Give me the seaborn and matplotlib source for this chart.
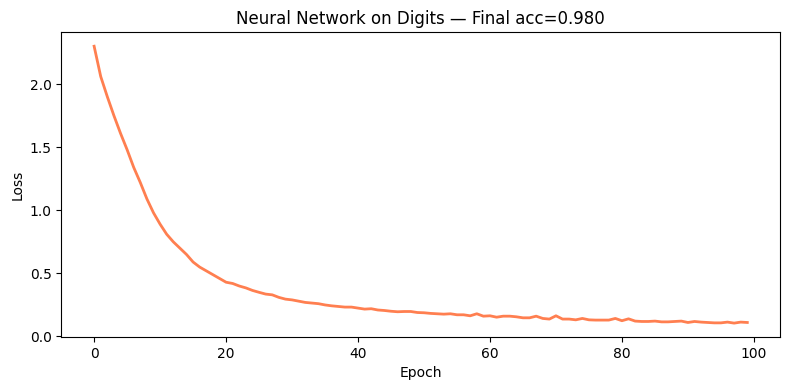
import matplotlib
matplotlib.use("Agg")
import matplotlib.pyplot as plt
import seaborn as sns
import numpy as np
import pandas as pd

title = "Neural Network on Digits — Final acc=0.980"
loss = [
    2.30, 2.06, 1.90, 1.75, 1.61, 1.48, 1.34, 1.22, 1.09, 0.98,
    0.89, 0.81, 0.75, 0.70, 0.65, 0.59, 0.55, 0.52, 0.49, 0.46,
    0.43, 0.42, 0.40, 0.385, 0.365, 0.35, 0.336, 0.33, 0.31, 0.296,
    0.29, 0.28, 0.27, 0.265, 0.26, 0.25, 0.243, 0.238, 0.233, 0.233,
    0.225, 0.217, 0.22, 0.21, 0.206, 0.20, 0.196, 0.198, 0.198, 0.19,
    0.188, 0.183, 0.18, 0.177, 0.18, 0.172, 0.172, 0.164, 0.18, 0.161,
    0.164, 0.153, 0.161, 0.161, 0.156, 0.148, 0.148, 0.161, 0.143, 0.138,
    0.164, 0.138, 0.138, 0.132, 0.143, 0.132, 0.13, 0.13, 0.13, 0.143,
    0.125, 0.14, 0.122, 0.119, 0.119, 0.122, 0.116, 0.116, 0.119, 0.122,
    0.111, 0.119, 0.114, 0.111, 0.108, 0.108, 0.114, 0.106, 0.114, 0.111,
]
epochs = list(range(len(loss)))

df = pd.DataFrame({"Epoch": epochs, "Loss": loss})

fig, ax = plt.subplots(figsize=(7.9, 3.9), dpi=100)
sns.lineplot(data=df, x="Epoch", y="Loss", color="coral", linewidth=2, ax=ax)
ax.set_title(title)
ax.set_xlabel("Epoch")
ax.set_ylabel("Loss")
fig.subplots_adjust(left=0.0778, right=0.9873, top=0.917, bottom=0.136)
fig.savefig("out.png", dpi=100)
